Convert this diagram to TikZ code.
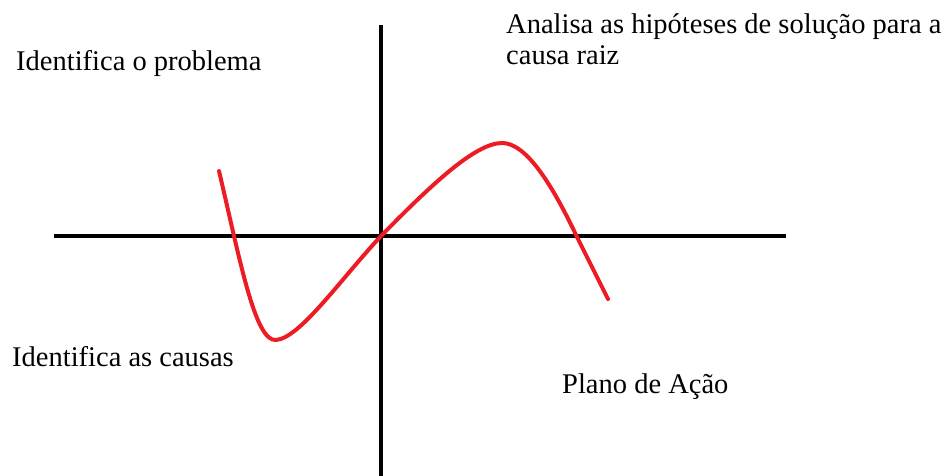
\documentclass[tikz,border=0pt]{standalone}
\usepackage{fontspec}
\setmainfont{Liberation Serif}
\definecolor{wavered}{RGB}{237,28,36}
\begin{document}
\begin{tikzpicture}[x=1pt,y=-1pt,
  lbl/.style={anchor=base west,inner sep=0pt,font=\fontsize{28.5}{31}\selectfont,align=left},
  axis/.style={line width=3.5pt,black},
  wave/.style={line width=4pt,wavered,line cap=round,line join=round}]
\useasboundingbox (0,0) rectangle (952,475);
\coordinate (hl) at (54,236);
\coordinate (hr) at (786,236);
\coordinate (vt) at (381,25);
\coordinate (vb) at (381,476);
\draw[axis] (hl) -- (hr);
\draw[axis] (vt) -- (vb);
\coordinate (c0) at (219,171);
\coordinate (cmin) at (276,340);
\coordinate (corg) at (381,236);
\coordinate (cmax) at (502,143);
\coordinate (ccut) at (577,237);
\coordinate (cend) at (608,299);
\draw[wave] (c0) .. controls (240,260) and (255,342) .. (cmin)
  .. controls (300,338) and (340,280) .. (corg)
  .. controls (430,186) and (475,143) .. (cmax)
  .. controls (525,143) and (550,180) .. (ccut) -- (cend);
\node[lbl] (t1) at (16,70) {Identifica o problema};
\node[lbl] (t2) at (506,64) {Analisa as hipóteses de solução para a\\causa raiz};
\node[lbl] (t3) at (12,366) {Identifica as causas};
\node[lbl] (t4) at (562,393) {Plano de Ação};
\end{tikzpicture}
\end{document}
